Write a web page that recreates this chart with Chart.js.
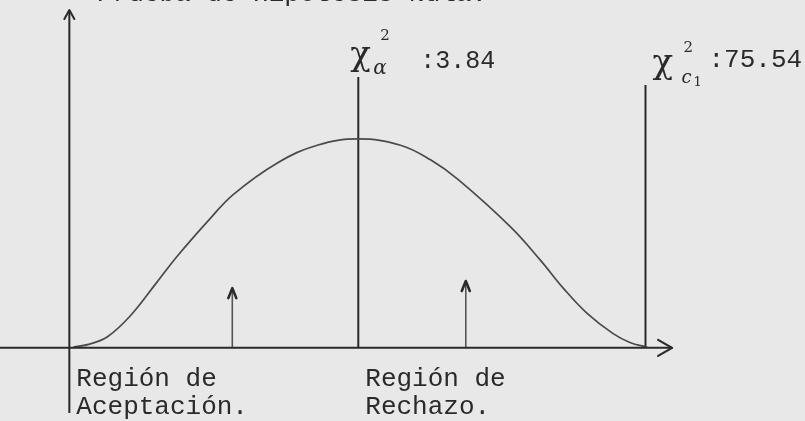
<!DOCTYPE html>
<html>
<head>
<meta charset="utf-8">
<script src="https://cdn.jsdelivr.net/npm/chart.js@4/dist/chart.umd.min.js"></script>
<style>
  html, body { margin: 0; padding: 0; background: #e8e8e8; }
  #wrap { width: 805px; height: 421px; position: relative; }
</style>
</head>
<body>
<div id="wrap"><canvas id="c"></canvas></div>
<script>
// ---- data (schematic units) ----
const curveX = [0.7, 3.5, 6.6, 10.6, 14.9, 18.7, 24.4, 28.4, 36.0, 42.9, 50, 57.3, 62.5, 67.3, 76.3, 81.5, 85.5, 89.6, 94.1, 97.0, 100];
const curveY = [0.4, 1.8, 5.3, 15.5, 30.5, 44.0, 62.0, 73.5, 88.5, 97.0, 100, 97.0, 90.0, 80.5, 58.0, 42.0, 28.5, 16.5, 6.8, 2.6, 0.3];
const criticalNames = ["α", "c"];
const criticalValues = [3.84, 75.54];
const criticalX = [50, 99.7];
const criticalTop = [129.6, 125.8];
const arrowX = [28.2, 68.6];
const arrowTop = [28.6, 32.0];
const xAxisRange = [-12, 104.3];
const yAxisRange = [-31.2, 161.7];
const regionLabels = [["Región de", "Aceptación."], ["Región de", "Rechazo."]];
const titleText = "Prueba de Hipótesis Nula.";

const ink = "#2a2a2a";

const datasets = [];
// axes
datasets.push({ data: [{x: xAxisRange[0], y: 0}, {x: xAxisRange[1], y: 0}], borderColor: ink, borderWidth: 2 });
datasets.push({ data: [{x: 0, y: yAxisRange[0]}, {x: 0, y: yAxisRange[1]}], borderColor: ink, borderWidth: 2 });
// curve
datasets.push({ data: curveX.map((x, i) => ({x, y: curveY[i]})), borderColor: "#4a4a4a", borderWidth: 1.7, tension: 0.4 });
// critical lines
criticalX.forEach((x, i) => datasets.push({ data: [{x, y: 0}, {x, y: criticalTop[i]}], borderColor: ink, borderWidth: 2 }));
// small arrows
arrowX.forEach((x, i) => datasets.push({ data: [{x, y: 0}, {x, y: arrowTop[i]}], borderColor: "#555", borderWidth: 1.6 }));

datasets.forEach(d => { d.pointRadius = 0; d.fill = false; d.clip = false; d.showLine = true; });

const decor = {
  id: "decor",
  beforeDraw(chart) {
    const ctx = chart.ctx;
    ctx.save();
    ctx.fillStyle = "#e8e8e8";
    ctx.fillRect(0, 0, chart.width, chart.height);
    ctx.restore();
  },
  afterDatasetsDraw(chart) {
    const ctx = chart.ctx, xs = chart.scales.x, ys = chart.scales.y;
    const px = v => xs.getPixelForValue(v), py = v => ys.getPixelForValue(v);
    ctx.save();
    ctx.strokeStyle = ink; ctx.lineCap = "round"; ctx.lineJoin = "round";
    // y axis arrow
    let ax = px(0), ay = py(yAxisRange[1]);
    ctx.lineWidth = 2;
    ctx.beginPath(); ctx.moveTo(ax - 5, ay + 9); ctx.lineTo(ax, ay); ctx.lineTo(ax + 5, ay + 9); ctx.stroke();
    // x axis arrow
    ax = px(xAxisRange[1]); ay = py(0);
    ctx.lineWidth = 2.2;
    ctx.beginPath(); ctx.moveTo(ax - 14, ay - 8); ctx.lineTo(ax, ay); ctx.lineTo(ax - 14, ay + 8); ctx.stroke();
    // small arrows
    ctx.lineWidth = 2.6;
    arrowX.forEach((x, i) => {
      const a = px(x), b = py(arrowTop[i]);
      ctx.beginPath(); ctx.moveTo(a - 4, b + 10); ctx.lineTo(a, b); ctx.lineTo(a + 4, b + 10); ctx.stroke();
    });
    // texts
    ctx.fillStyle = ink;
    ctx.textBaseline = "alphabetic";
    ctx.font = "26px 'Liberation Mono'";
    ctx.fillText(titleText, 97, 1);
    regionLabels.forEach((lines, i) => {
      const x = (i === 0 ? px(0) : px(criticalX[0])) + 7;
      ctx.fillText(lines[0], x, 386);
      ctx.fillText(lines[1], x, 414);
    });
    // critical labels
    criticalX.forEach((cx, i) => {
      const base = px(cx);
      const top = py(criticalTop[i]);
      const chiX = i === 0 ? base - 8 : base + 7;
      const chiBase = top - 12;
      ctx.font = "34px 'DejaVu Serif'";
      ctx.fillText("χ", chiX, chiBase);
      ctx.font = "15px 'DejaVu Serif'";
      ctx.fillText("2", chiX + (i === 0 ? 30 : 31), chiBase - 25 + (i === 0 ? 0 : 4));
      if (i === 0) {
        ctx.font = "italic 20px 'DejaVu Serif'";
        ctx.fillText(criticalNames[i], chiX + 23, chiBase + 9);
        ctx.font = "25px 'Liberation Mono'";
        ctx.fillText(":" + criticalValues[i].toFixed(2), chiX + 70, chiBase + 3);
      } else {
        ctx.font = "italic 18px 'DejaVu Serif'";
        ctx.fillText(criticalNames[i], chiX + 29, chiBase + 10);
        ctx.font = "13px 'DejaVu Serif'";
        ctx.fillText("1", chiX + 41, chiBase + 13);
        ctx.font = "26px 'Liberation Mono'";
        ctx.fillText(":" + criticalValues[i].toFixed(2), chiX + 56, chiBase - 6);
      }
    });
    ctx.restore();
  }
};

new Chart(document.getElementById("c"), {
  type: "line",
  data: { datasets },
  options: {
    responsive: true,
    maintainAspectRatio: false,
    animation: false,
    layout: { padding: 0 },
    plugins: { legend: { display: false }, tooltip: { enabled: false }, title: { display: false } },
    scales: {
      x: { type: "linear", min: -12, max: 127.3, display: false },
      y: { type: "linear", min: -35, max: 166.5, display: false }
    }
  },
  plugins: [decor]
});
</script>
</body>
</html>
